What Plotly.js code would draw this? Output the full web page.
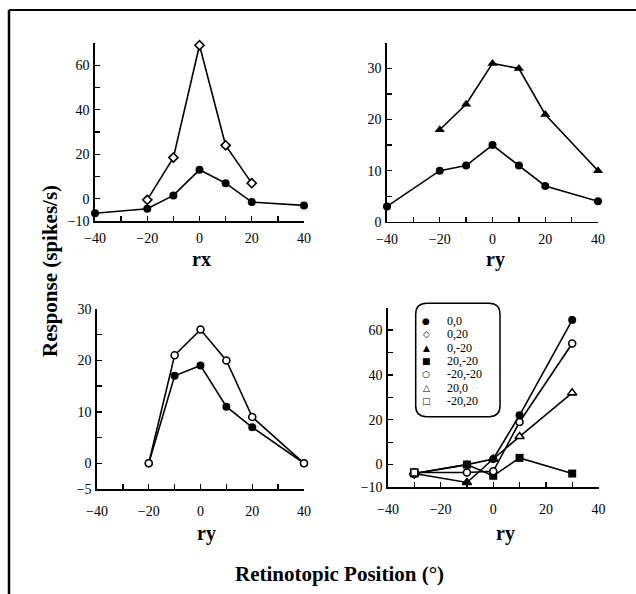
<!DOCTYPE html>
<html><head><meta charset="utf-8">
<script src="https://cdn.plot.ly/plotly-3.0.1.min.js"></script>
<style>html,body{margin:0;padding:0;background:#fff}#chart{width:636px;height:594px}</style>
</head><body><div id="chart"></div>
<script>
// ---- Panel A : rx ----
const aX00 = [-40, -20, -10, 0, 10, 20, 40];
const aY00 = [-6.5, -4.5, 1.5, 13, 7, -1.5, -3];
const aX020 = [-20, -10, 0, 10, 20];
const aY020 = [-0.5, 18.5, 69, 24, 7];
// ---- Panel B : ry ----
const bX00 = [-40, -20, -10, 0, 10, 20, 40];
const bY00 = [3, 10, 11, 15, 11, 7, 4];
const bX0m20 = [-20, -10, 0, 10, 20, 40];
const bY0m20 = [18, 23, 31, 30, 21, 10];
// ---- Panel C : ry ----
const cX = [-20, -10, 0, 10, 20, 40];
const cYfilled = [0, 17, 19, 11, 7, 0];
const cYopen = [0, 21, 26, 20, 9, 0];
// ---- Panel D : ry, several stimulus positions ----
const dX = [-30, -10, 0, 10, 30];
const dY_0_0 = [-4, 0, 2.5, 22, 64.5];
const dY_m20_m20 = [-3.5, -3.5, -3, 19, 54];
const dY_20_0 = [-4, -8, 2.5, 12.5, 32];
const dY_20_m20 = [-4, 0, -5, 3, -4];
const dX_0_20 = [-30], dY_0_20 = [-4];
const dX_0_m20 = [-10], dY_0_m20 = [-8];
const dX_m20_20 = [-30], dY_m20_20 = [-3.5];
const legendLabels = ['0,0', '0,20', '0,-20', '20,-20', '-20,-20', '20,0', '-20,20'];
const legendSymbols = ['\u25CF', '\u25C7', '\u25B2', '\u25A0', '\u25CB', '\u25B3', '\u25A1'];

const W = 636, H = 594;
const px = v => v / W, py = v => 1 - v / H;

function tr(x, y, xa, ya, symbol, size, filled, lines) {
  return {
    x: x, y: y, xaxis: xa, yaxis: ya, type: 'scatter',
    mode: lines === false ? 'markers' : 'lines+markers', cliponaxis: false,
    line: {color: 'black', width: 1.6},
    marker: {symbol: symbol, size: size, color: filled ? 'black' : 'white',
             line: {color: 'black', width: filled ? 0 : 1.6}},
    hoverinfo: 'skip', showlegend: false
  };
}

const data = [
  tr(aX00, aY00, 'x', 'y', 'circle', 8, true),
  tr(aX020, aY020, 'x', 'y', 'diamond', 7, false),
  tr(bX00, bY00, 'x2', 'y2', 'circle', 8, true),
  tr(bX0m20, bY0m20, 'x2', 'y2', 'triangle-up', 9, true),
  tr(cX, cYfilled, 'x3', 'y3', 'circle', 8, true),
  tr(cX, cYopen, 'x3', 'y3', 'circle', 7, false),
  tr(dX, dY_20_m20, 'x4', 'y4', 'square', 8, true),
  tr(dX, dY_20_0, 'x4', 'y4', 'triangle-up', 8, false),
  tr(dX, dY_m20_m20, 'x4', 'y4', 'circle', 7, false),
  tr(dX, dY_0_0, 'x4', 'y4', 'circle', 8, true),
  tr(dX_0_20, dY_0_20, 'x4', 'y4', 'diamond', 7, false, false),
  tr(dX_m20_20, dY_m20_20, 'x4', 'y4', 'square', 7, false, false),
  tr(dX_0_m20, dY_0_m20, 'x4', 'y4', 'triangle-up', 8, true, false)
];

const tickFont = {family: 'Liberation Serif', size: 14, color: 'black'};
function xax(d0, d1, anchor, so) {
  return {domain: [d0, d1], anchor: anchor, range: [-40, 40], tickvals: [-40, -20, 0, 20, 40],
    showline: true, linecolor: 'black', linewidth: 1.6, ticks: 'inside', ticklen: 5, tickwidth: 1.3,
    tickcolor: 'black', showgrid: false, zeroline: false, tickfont: tickFont, ticklabelstandoff: so,
    minor: {dtick: 10, tick0: 0, ticks: 'inside', ticklen: 5, tickwidth: 1.3, tickcolor: 'black', showgrid: false},
    fixedrange: true};
}
function yax(d0, d1, anchor, range, tv, mdt) {
  return {domain: [d0, d1], anchor: anchor, range: range, tickvals: tv,
    showline: true, linecolor: 'black', linewidth: 1.6, ticks: 'inside', ticklen: 5, tickwidth: 1.3,
    tickcolor: 'black', showgrid: false, zeroline: false, tickfont: tickFont, ticklabelstandoff: 1,
    minor: {dtick: mdt, tick0: 0, ticks: 'inside', ticklen: 5, tickwidth: 1.3, tickcolor: 'black', showgrid: false},
    fixedrange: true};
}

const titleFont = {family: 'Liberation Serif', size: 21, color: 'black', weight: 'bold'};
const subFont = {family: 'Liberation Serif', size: 20, color: 'black', weight: 'bold'};
const annotations = [
  {text: 'rx', x: px(201), y: py(259), font: subFont},
  {text: 'ry', x: px(495), y: py(259), font: subFont},
  {text: 'ry', x: px(206), y: py(533), font: subFont},
  {text: 'ry', x: px(505), y: py(533), font: subFont},
  {text: 'Retinotopic Position (°)', x: px(339), y: py(574), font: titleFont},
  {text: 'Response (spikes/s)', x: px(50), y: py(271), font: titleFont, textangle: -90}
].map(a => Object.assign({xref: 'paper', yref: 'paper', showarrow: false, xanchor: 'center', yanchor: 'middle'}, a));

legendLabels.forEach((lab, i) => {
  const yy = 320.7 + i * 13.4;
  annotations.push({text: legendSymbols[i], x: px(426), y: py(yy), xref: 'paper', yref: 'paper',
    showarrow: false, xanchor: 'center', yanchor: 'middle',
    font: {family: 'DejaVu Sans', size: 9, color: 'black', weight: 'bold'}});
  annotations.push({text: lab, x: px(445), y: py(yy), xref: 'paper', yref: 'paper',
    showarrow: false, xanchor: 'left', yanchor: 'middle',
    font: {family: 'Liberation Serif', size: 12, color: 'black'}});
});

// rounded legend box (paper coords)
const bx0 = px(415.7), bx1 = px(500), by0 = py(416.7), by1 = py(303.3);
const rx = 11 / W, ry = 11 / H;
const boxPath = `M ${bx0 + rx} ${by1} L ${bx1 - rx} ${by1} Q ${bx1} ${by1} ${bx1} ${by1 - ry} ` +
  `L ${bx1} ${by0 + ry} Q ${bx1} ${by0} ${bx1 - rx} ${by0} L ${bx0 + rx} ${by0} ` +
  `Q ${bx0} ${by0} ${bx0} ${by0 + ry} L ${bx0} ${by1 - ry} Q ${bx0} ${by1} ${bx0 + rx} ${by1} Z`;

const shapes = [
  {type: 'path', path: boxPath, xref: 'paper', yref: 'paper', line: {color: 'black', width: 1.5}, fillcolor: 'white', layer: 'below'},
  {type: 'line', xref: 'paper', yref: 'paper', x0: px(9), x1: 1, y0: py(10), y1: py(10), line: {color: 'black', width: 2}},
  {type: 'line', xref: 'paper', yref: 'paper', x0: px(9), x1: px(9), y0: 0, y1: py(10), line: {color: 'black', width: 2.5}}
];

const layout = {
  width: W, height: H, margin: {l: 0, r: 0, t: 0, b: 0},
  paper_bgcolor: 'white', plot_bgcolor: 'rgba(0,0,0,0)', showlegend: false,
  xaxis: xax(px(95), px(304), 'y', 4),
  yaxis: yax(py(221), py(43), 'x', [-10, 70], [-10, 0, 20, 40, 60], 10),
  xaxis2: xax(px(387), px(598), 'y2', 4),
  yaxis2: yax(py(221.7), py(43), 'x2', [0, 35], [0, 10, 20, 30], 5),
  xaxis3: xax(px(97), px(304), 'y3', 9),
  yaxis3: yax(py(489), py(309), 'x3', [-5, 30], [-5, 0, 10, 20, 30], 5),
  xaxis4: xax(px(388), px(598.5), 'y4', 9),
  yaxis4: yax(py(487), py(307.7), 'x4', [-10, 70], [-10, 0, 20, 40, 60], 10),
  annotations: annotations, shapes: shapes
};

Plotly.newPlot('chart', data, layout, {displayModeBar: false, staticPlot: true});
</script>
</body></html>
